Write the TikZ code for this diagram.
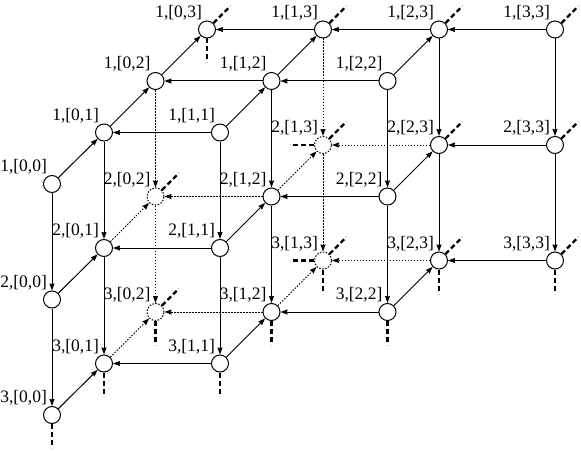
\documentclass[tikz,border=0pt]{standalone}
\usepackage{fontspec}
\setmainfont{Liberation Serif}
\usetikzlibrary{arrows.meta,positioning}

\begin{document}
\begin{tikzpicture}[
    x=1pt, y=-1pt,
    vtx/.style={draw, circle, fill=white, line width=1pt, minimum size=17pt, inner sep=0pt},
    hidvtx/.style={vtx, dash pattern=on 1.5pt off 1.5pt},
    tag/.style={anchor=south east, inner sep=0pt, xshift=1.5pt, yshift=3pt, font=\fontsize{17.5}{19}\selectfont},
    arrow/.style={-{Stealth[length=7pt, width=5pt, inset=0.5pt]}, line width=1pt},
    hidden/.style={arrow, dash pattern=on 1.5pt off 1.5pt},
    stub/.style={line width=2.2pt, dash pattern=on 5pt off 3pt}
]
    \useasboundingbox (0,0) rectangle (581,452);

    % Layer 1
    \node [vtx] (p100) at (52,184) {};      \node [tag] (t100) at (p100.north west) {1,[0,0]};
    \node [vtx] (p101) at (104,132.5) {};   \node [tag] (t101) at (p101.north west) {1,[0,1]};
    \node [vtx] (p102) at (155.5,81) {};    \node [tag] (t102) at (p102.north west) {1,[0,2]};
    \node [vtx] (p103) at (207,29.5) {};    \node [tag] (t103) at (p103.north west) {1,[0,3]};
    \node [vtx] (p111) at (220,132.5) {};   \node [tag] (t111) at (p111.north west) {1,[1,1]};
    \node [vtx] (p112) at (271.5,81) {};    \node [tag] (t112) at (p112.north west) {1,[1,2]};
    \node [vtx] (p113) at (323,29.5) {};    \node [tag] (t113) at (p113.north west) {1,[1,3]};
    \node [vtx] (p122) at (387.5,81) {};    \node [tag] (t122) at (p122.north west) {1,[2,2]};
    \node [vtx] (p123) at (439,29.5) {};    \node [tag] (t123) at (p123.north west) {1,[2,3]};
    \node [vtx] (p133) at (555,29.5) {};    \node [tag] (t133) at (p133.north west) {1,[3,3]};

    % Layer 2
    \node [vtx] (p200) at (52,299.5) {};    \node [tag] (t200) at (p200.north west) {2,[0,0]};
    \node [vtx] (p201) at (104,248) {};     \node [tag] (t201) at (p201.north west) {2,[0,1]};
    \node [hidvtx] (p202) at (155.5,196.5) {}; \node [tag] (t202) at (p202.north west) {2,[0,2]};
    \node [vtx] (p211) at (220,248) {};     \node [tag] (t211) at (p211.north west) {2,[1,1]};
    \node [vtx] (p212) at (271.5,196.5) {}; \node [tag] (t212) at (p212.north west) {2,[1,2]};
    \node [hidvtx] (p213) at (323,145) {};  \node [tag] (t213) at (p213.north west) {2,[1,3]};
    \node [vtx] (p222) at (387.5,196.5) {}; \node [tag] (t222) at (p222.north west) {2,[2,2]};
    \node [vtx] (p223) at (439,145) {};     \node [tag] (t223) at (p223.north west) {2,[2,3]};
    \node [vtx] (p233) at (555,145) {};     \node [tag] (t233) at (p233.north west) {2,[3,3]};

    % Layer 3
    \node [vtx] (p300) at (52,415) {};      \node [tag] (t300) at (p300.north west) {3,[0,0]};
    \node [vtx] (p301) at (104,363.5) {};   \node [tag] (t301) at (p301.north west) {3,[0,1]};
    \node [hidvtx] (p302) at (155.5,312) {}; \node [tag] (t302) at (p302.north west) {3,[0,2]};
    \node [vtx] (p311) at (220,363.5) {};   \node [tag] (t311) at (p311.north west) {3,[1,1]};
    \node [vtx] (p312) at (271.5,312) {};   \node [tag] (t312) at (p312.north west) {3,[1,2]};
    \node [hidvtx] (p313) at (323,260.5) {}; \node [tag] (t313) at (p313.north west) {3,[1,3]};
    \node [vtx] (p322) at (387.5,312) {};   \node [tag] (t322) at (p322.north west) {3,[2,2]};
    \node [vtx] (p323) at (439,260.5) {};   \node [tag] (t323) at (p323.north west) {3,[2,3]};
    \node [vtx] (p333) at (555,260.5) {};   \node [tag] (t333) at (p333.north west) {3,[3,3]};

    % Vertical arrows
    \draw [arrow] (p100) -- (p200);  \draw [arrow] (p200) -- (p300);
    \draw [arrow] (p101) -- (p201);  \draw [arrow] (p201) -- (p301);
    \draw [arrow] (p111) -- (p211);  \draw [arrow] (p211) -- (p311);
    \draw [arrow] (p112) -- (p212);  \draw [arrow] (p212) -- (p312);
    \draw [arrow] (p122) -- (p222);  \draw [arrow] (p222) -- (p322);
    \draw [arrow] (p123) -- (p223);  \draw [arrow] (p223) -- (p323);
    \draw [arrow] (p133) -- (p233);  \draw [arrow] (p233) -- (p333);
    \draw [hidden] (p102) -- (p202); \draw [hidden] (p202) -- (p302);
    \draw [hidden] (p113) -- (p213); \draw [hidden] (p213) -- (p313);

    % Layer 1 arrows
    \draw [arrow] (p111) -- (p101);  \draw [arrow] (p112) -- (p102);
    \draw [arrow] (p113) -- (p103);  \draw [arrow] (p122) -- (p112);
    \draw [arrow] (p123) -- (p113);  \draw [arrow] (p133) -- (p123);
    \draw [arrow] (p100) -- (p101);  \draw [arrow] (p101) -- (p102);
    \draw [arrow] (p102) -- (p103);  \draw [arrow] (p111) -- (p112);
    \draw [arrow] (p112) -- (p113);  \draw [arrow] (p122) -- (p123);

    % Layer 2 arrows
    \draw [arrow] (p211) -- (p201);  \draw [arrow] (p222) -- (p212);
    \draw [arrow] (p233) -- (p223);  \draw [arrow] (p200) -- (p201);
    \draw [arrow] (p211) -- (p212);  \draw [arrow] (p222) -- (p223);
    \draw [hidden] (p212) -- (p202); \draw [hidden] (p223) -- (p213);
    \draw [hidden] (p201) -- (p202); \draw [hidden] (p212) -- (p213);

    % Layer 3 arrows
    \draw [arrow] (p311) -- (p301);  \draw [arrow] (p322) -- (p312);
    \draw [arrow] (p333) -- (p323);  \draw [arrow] (p300) -- (p301);
    \draw [arrow] (p311) -- (p312);  \draw [arrow] (p322) -- (p323);
    \draw [hidden] (p312) -- (p302); \draw [hidden] (p323) -- (p313);
    \draw [hidden] (p301) -- (p302); \draw [hidden] (p312) -- (p313);

    % Cut-off continuations
    \draw [stub] (p103.45) -- ++(17,-17);  \draw [stub] (p113.45) -- ++(17,-17);
    \draw [stub] (p123.45) -- ++(17,-17);  \draw [stub] (p133.45) -- ++(17,-17);
    \draw [stub] (p202.45) -- ++(17,-17);  \draw [stub] (p213.45) -- ++(17,-17);
    \draw [stub] (p223.45) -- ++(17,-17);  \draw [stub] (p233.45) -- ++(17,-17);
    \draw [stub] (p302.45) -- ++(17,-17);  \draw [stub] (p313.45) -- ++(17,-17);
    \draw [stub] (p323.45) -- ++(17,-17);  \draw [stub] (p333.45) -- ++(17,-17);
    \draw [stub] (p213.west) -- ++(-24,0); \draw [stub] (p313.west) -- ++(-24,0);
    \draw [stub] (p103.south) -- ++(0,24); \draw [stub] (p300.south) -- ++(0,24);
    \draw [stub] (p301.south) -- ++(0,24); \draw [stub] (p302.south) -- ++(0,24);
    \draw [stub] (p311.south) -- ++(0,24); \draw [stub] (p312.south) -- ++(0,24);
    \draw [stub] (p313.south) -- ++(0,24); \draw [stub] (p322.south) -- ++(0,24);
    \draw [stub] (p323.south) -- ++(0,24); \draw [stub] (p333.south) -- ++(0,24);

\end{tikzpicture}
\end{document}
